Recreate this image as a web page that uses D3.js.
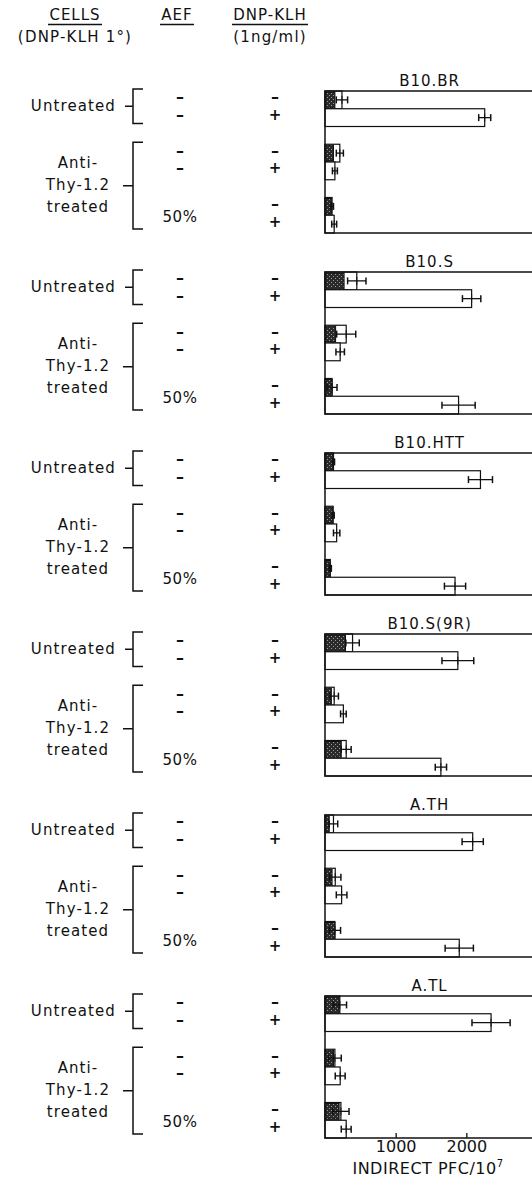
<!DOCTYPE html>
<html>
<head>
<meta charset="utf-8">
<script src="https://cdn.jsdelivr.net/npm/d3@7"></script>
<style>
  body { margin: 0; background: #fff; }
  text { font-family: "DejaVu Sans", sans-serif; fill: #111; }
</style>
</head>
<body>
<script>
// strains, one panel each
var strains = ["B10.BR", "B10.S", "B10.HTT", "B10.S(9R)", "A.TH", "A.TL"];
// row groups inside a panel and the antigen (DNP-KLH) rows
var groups = ["untreated", "anti", "aef"];
var antigen = ["-", "+"];
var aefLabels = [["–", "–"], ["–", "–"], ["50%"]];

// indirect PFC/10^7, rows: untr -, untr +, anti -, anti +, anti+AEF -, anti+AEF +
var pfcMean = [
  [240, 2260, 210, 140, 100, 130],
  [450, 2075, 300, 215, 100, 1890],
  [120, 2200, 115, 165, 75, 1840],
  [390, 1880, 130, 260, 300, 1640],
  [120, 2090, 145, 235, 140, 1900],
  [210, 2350, 140, 215, 225, 300]
];
var pfcErr = [
  [80, 85, 50, 35, 20, 35],
  [130, 130, 135, 60, 70, 235],
  [15, 170, 15, 45, 15, 150],
  [95, 225, 60, 40, 70, 80],
  [60, 150, 80, 75, 80, 200],
  [95, 270, 90, 70, 115, 70]
];
// shaded part of the bars without antigen (rows 0, 2, 4)
var shaded = [
  [140, 120, 90],
  [270, 150, 100],
  [115, 110, 70],
  [290, 90, 230],
  [60, 100, 140],
  [200, 120, 200]
];
var xTicks = [1000, 2000];

var W = 532, H = 1178;
var svg = d3.select("body").append("svg")
  .attr("width", W)
  .attr("height", H);

// stipple pattern for the shaded bars
var pat = svg.append("defs").append("pattern")
  .attr("id", "stip")
  .attr("width", 4)
  .attr("height", 4)
  .attr("patternUnits", "userSpaceOnUse");
pat.append("rect").attr("width", 4).attr("height", 4).attr("fill", "#2a2a2a");
pat.append("rect").attr("x", 1).attr("y", 0).attr("width", 1).attr("height", 1).attr("fill", "#999");
pat.append("rect").attr("x", 3).attr("y", 2).attr("width", 1).attr("height", 1).attr("fill", "#999");

var x = d3.scaleLinear().domain([0, 3000]).range([325, 537]);
var panelY = d3.scalePoint().domain(strains).range([91, 996]);
var groupY = d3.scaleBand().domain(groups).range([0, 142]).paddingInner(1 / 3);
var rowY = d3.scaleBand().domain(antigen).range([0, groupY.bandwidth()]);
var panelH = 142;

//=========================== column headers ===========================
function header(cx, line1, line2, ulFrom, ulTo) {
  svg.append("text")
    .attr("x", cx).attr("y", 20)
    .attr("text-anchor", "middle")
    .attr("font-size", 15)
    .attr("letter-spacing", 1)
    .text(line1);
  svg.append("line")
    .attr("x1", ulFrom).attr("x2", ulTo)
    .attr("y1", 24.5).attr("y2", 24.5)
    .attr("stroke", "#111").attr("stroke-width", 1.4);
  if (line2) {
    svg.append("text")
      .attr("x", cx).attr("y", 42)
      .attr("text-anchor", "middle")
      .attr("font-size", 15)
      .attr("letter-spacing", 1.2)
      .text(line2);
  }
}
header(75, "CELLS", "(DNP-KLH 1°)", 48, 102);
header(177, "AEF", null, 160, 194);
header(270, "DNP-KLH", "(1ng/ml)", 232, 308);

//=========================== panels ===========================
strains.forEach(function(strain, i) {
  var top = panelY(strain);
  var g = svg.append("g").attr("transform", "translate(0," + top + ")");

  // title
  g.append("text")
    .attr("x", x(1480)).attr("y", -10)
    .attr("text-anchor", "middle")
    .attr("dominant-baseline", "middle")
    .attr("font-size", 15)
    .attr("letter-spacing", 1)
    .text(strain);

  // rows
  var rows = [];
  groups.forEach(function(grp, gi) {
    antigen.forEach(function(a, ai) {
      var k = gi * 2 + ai;
      rows.push({
        y: groupY(grp) + rowY(a),
        mean: pfcMean[i][k],
        err: pfcErr[i][k],
        shade: ai === 0 ? shaded[i][gi] : null
      });
    });
  });

  // open bars
  g.selectAll("rect.bar").data(rows).enter().append("rect")
    .attr("class", "bar")
    .attr("x", x(0))
    .attr("y", function(d) { return d.y; })
    .attr("width", function(d) { return x(d.mean) - x(0); })
    .attr("height", rowY.bandwidth())
    .attr("fill", "#fff")
    .attr("stroke", "#111")
    .attr("stroke-width", 1.2);

  // shaded part
  g.selectAll("rect.shade").data(rows.filter(function(d) { return d.shade !== null; })).enter().append("rect")
    .attr("class", "shade")
    .attr("x", x(0))
    .attr("y", function(d) { return d.y + 1; })
    .attr("width", function(d) { return x(d.shade) - x(0); })
    .attr("height", rowY.bandwidth() - 2)
    .attr("fill", "url(#stip)")
    .attr("stroke", "#111")
    .attr("stroke-width", 1);

  // error bars
  var eb = g.selectAll("g.err").data(rows).enter().append("g")
    .attr("class", "err")
    .attr("transform", function(d) { return "translate(0," + (d.y + rowY.bandwidth() / 2) + ")"; });
  eb.append("line")
    .attr("x1", function(d) { return x(d.mean - d.err); })
    .attr("x2", function(d) { return x(d.mean + d.err); })
    .attr("stroke", "#111").attr("stroke-width", 1.3);
  eb.append("line")
    .attr("x1", function(d) { return x(d.mean - d.err); })
    .attr("x2", function(d) { return x(d.mean - d.err); })
    .attr("y1", -3.5).attr("y2", 3.5)
    .attr("stroke", "#111").attr("stroke-width", 1.5);
  eb.append("line")
    .attr("x1", function(d) { return x(d.mean + d.err); })
    .attr("x2", function(d) { return x(d.mean + d.err); })
    .attr("y1", -3.5).attr("y2", 3.5)
    .attr("stroke", "#111").attr("stroke-width", 1.5);
  eb.append("line")
    .attr("x1", function(d) { return x(d.mean); })
    .attr("x2", function(d) { return x(d.mean); })
    .attr("y1", -4).attr("y2", 4)
    .attr("stroke", "#111").attr("stroke-width", 1);

  // frame: top, left axis, bottom
  g.append("path")
    .attr("d", "M" + W + ",0H" + x(0) + "V" + panelH + "H" + W)
    .attr("fill", "none")
    .attr("stroke", "#111")
    .attr("stroke-width", 1.5);

  //---------------- left labels ----------------
  var rc = rowY.bandwidth() / 2 - 2;
  // DNP-KLH column
  rows.forEach(function(d, k) {
    g.append("text")
      .attr("x", 275).attr("y", d.y + rc)
      .attr("text-anchor", "middle")
      .attr("dominant-baseline", "middle")
      .attr("font-size", k % 2 === 0 ? 16 : 15)
      .attr("font-weight", "bold")
      .text(k % 2 === 0 ? "–" : "+");
  });
  // AEF column
  aefLabels.forEach(function(labs, gi) {
    if (labs.length === 2) {
      labs.forEach(function(l, ai) {
        g.append("text")
          .attr("x", 180).attr("y", groupY(groups[gi]) + rowY(antigen[ai]) + rc)
          .attr("text-anchor", "middle")
          .attr("dominant-baseline", "middle")
          .attr("font-size", 16)
          .attr("font-weight", "bold")
          .text(l);
      });
    } else {
      g.append("text")
        .attr("x", 180).attr("y", groupY(groups[gi]) + groupY.bandwidth() * 0.55)
        .attr("text-anchor", "middle")
        .attr("dominant-baseline", "middle")
        .attr("font-size", 15)
        .attr("letter-spacing", 0.5)
        .text(labs[0]);
    }
  });

  // brackets
  var b1 = groupY("untreated") - 2, b1e = b1 + groupY.bandwidth() - 1;
  var m1 = (b1 + b1e) / 2;
  g.append("path")
    .attr("d", "M143," + b1 + "H133V" + b1e + "H143M125," + m1 + "H133")
    .attr("fill", "none").attr("stroke", "#111").attr("stroke-width", 1.5);
  g.append("text")
    .attr("x", 116).attr("y", m1)
    .attr("text-anchor", "end")
    .attr("dominant-baseline", "middle")
    .attr("font-size", 15)
    .attr("letter-spacing", 1.1)
    .text("Untreated");

  var b2 = groupY("anti") - 2, b2e = groupY("aef") + groupY.bandwidth() - 4;
  var m2 = (b2 + b2e) / 2;
  g.append("path")
    .attr("d", "M143," + b2 + "H133V" + b2e + "H143M123," + m2 + "H133")
    .attr("fill", "none").attr("stroke", "#111").attr("stroke-width", 1.5);
  ["Anti-", "Thy-1.2", "treated"].forEach(function(t, j) {
    g.append("text")
      .attr("x", 78).attr("y", m2 + (j - 1) * 22)
      .attr("text-anchor", "middle")
      .attr("dominant-baseline", "middle")
      .attr("font-size", 15)
      .attr("letter-spacing", 1.1)
      .text(t);
  });
});

//=========================== x axis on the last panel ===========================
var bottom = panelY(strains[strains.length - 1]) + panelH;
var axis = svg.append("g")
  .attr("transform", "translate(0," + bottom + ")")
  .call(d3.axisBottom(x).tickValues(xTicks).tickSize(-5).tickPadding(3).tickFormat(d3.format("d")));
axis.select(".domain").remove();
axis.selectAll(".tick line").attr("stroke", "#111").attr("stroke-width", 1.3);
axis.selectAll(".tick text")
  .attr("font-family", "DejaVu Sans")
  .attr("font-size", 16)
  .attr("fill", "#111");

var lab = svg.append("text")
  .attr("x", 428).attr("y", bottom + 36)
  .attr("text-anchor", "middle")
  .attr("font-size", 16)
  .attr("letter-spacing", 0.5)
  .text("INDIRECT PFC/10");
lab.append("tspan")
  .attr("font-size", 10)
  .attr("dy", -7)
  .text("7");
</script>
</body>
</html>
